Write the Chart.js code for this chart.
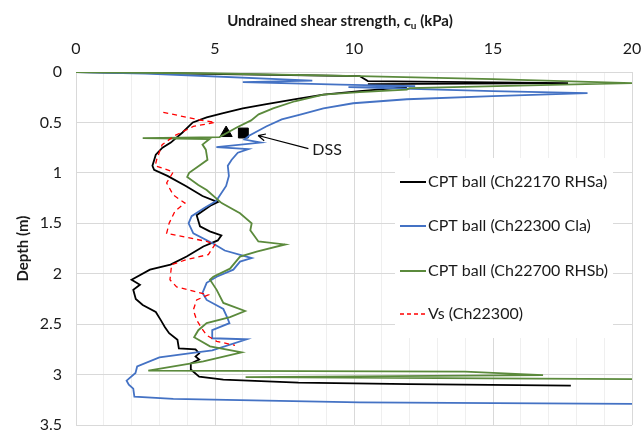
<!DOCTYPE html>
<html>
<head>
<meta charset="utf-8">
<script src="https://cdn.jsdelivr.net/npm/chart.js@4.4.0/dist/chart.umd.min.js"></script>
<style>
  html, body { margin: 0; padding: 0; background: #fff; }
  #chart { display: block; }
</style>
</head>
<body>
<canvas id="chart" width="642" height="434"></canvas>
<script>
// [cu (kPa), depth (m)]
const cptRHSa = [
  [0, 0], [4, 0.015], [10.2, 0.04], [10.5, 0.09], [17.7, 0.11], [10.5, 0.12], [11.9, 0.15],
  [10.2, 0.19], [8.9, 0.225], [7.9, 0.27], [6.8, 0.32], [6.0, 0.36], [5.26, 0.41], [4.7, 0.45],
  [4.2, 0.5], [3.83, 0.6], [3.41, 0.7], [3.11, 0.75], [2.87, 0.82], [2.75, 0.93], [2.81, 0.97],
  [3.29, 1.03], [3.95, 1.13], [4.55, 1.23], [5.1, 1.29], [4.87, 1.32], [4.34, 1.42], [4.46, 1.53],
  [4.81, 1.58], [5.23, 1.62], [5.1, 1.67], [4.58, 1.73], [3.98, 1.83], [3.4, 1.91], [2.66, 1.96],
  [2.0, 2.06], [2.3, 2.11], [2.06, 2.16], [2.15, 2.25], [2.4, 2.31], [2.87, 2.38], [3.05, 2.46],
  [3.2, 2.53], [3.35, 2.59], [3.65, 2.655], [3.7, 2.74], [4.3, 2.75], [4.43, 2.79], [4.3, 2.82],
  [4.43, 2.85], [4.13, 2.89], [4.13, 2.95], [4.43, 3.02], [5.3, 3.05], [8, 3.08], [12, 3.095],
  [17.8, 3.11]
];

const cptCla = [
  [0, 0], [2.5, 0.015], [8.5, 0.085], [6.0, 0.1], [9.5, 0.125], [12.2, 0.14], [9.8, 0.15],
  [15, 0.19], [18.4, 0.21], [15, 0.24], [11.9, 0.27], [9.97, 0.31], [8.9, 0.36], [8.1, 0.42],
  [7.4, 0.47], [6.84, 0.54], [6.24, 0.63], [6.06, 0.67], [6.65, 0.7], [5.05, 0.745], [6.2, 0.765],
  [5.82, 0.8], [5.6, 0.87], [5.46, 0.93], [5.5, 1.03], [5.4, 1.13], [5.16, 1.23], [5.04, 1.28],
  [4.6, 1.35], [4.16, 1.43], [4.05, 1.5], [4.22, 1.6], [4.93, 1.7], [5.35, 1.77], [6.32, 1.845],
  [5.9, 1.88], [5.66, 1.96], [5.06, 2.03], [4.7, 2.09], [4.55, 2.19], [4.7, 2.26], [5.3, 2.35],
  [5.45, 2.44], [5.52, 2.49], [4.9, 2.56], [4.9, 2.64], [6.14, 2.65], [4.9, 2.76], [4.07, 2.79],
  [3.0, 2.83], [2.2, 2.92], [2.14, 2.985], [1.82, 3.06], [1.9, 3.1], [2.06, 3.14], [2.1, 3.22],
  [3.5, 3.24], [10.2, 3.275], [20, 3.29]
];

const cptRHSb = [
  [0, 0], [5, 0.015], [10.2, 0.04], [15, 0.07], [20, 0.11], [17.5, 0.125], [12, 0.16],
  [11.9, 0.175], [10.2, 0.2], [8.9, 0.225], [7.87, 0.29], [7.09, 0.36], [6.57, 0.42], [6.3, 0.48],
  [5.78, 0.55], [5.16, 0.645], [2.4, 0.655], [4.8, 0.665], [4.55, 0.72], [4.67, 0.77], [4.73, 0.87],
  [4.43, 0.93], [4.07, 1.0], [4.0, 1.04], [4.4, 1.12], [4.7, 1.17], [5.24, 1.3], [5.9, 1.4],
  [6.32, 1.5], [6.27, 1.57], [6.56, 1.68], [7.52, 1.71], [6.5, 1.78], [5.9, 1.83], [5.54, 1.95],
  [4.94, 2.03], [4.82, 2.06], [5.06, 2.16], [5.3, 2.29], [6.08, 2.37], [5.54, 2.43], [4.7, 2.49],
  [4.4, 2.56], [4.25, 2.63], [4.82, 2.72], [5.96, 2.78], [4.58, 2.87], [2.6, 2.96], [14, 2.97],
  [16.8, 3.005], [6.1, 3.025], [20, 3.045]
];

const vsCla = [
  [3.14, 0.4], [4.46, 0.476], [5.0, 0.5], [4.22, 0.54], [3.56, 0.63], [3.1, 0.72], [2.9, 0.87],
  [2.85, 0.93], [3.5, 0.99], [3.26, 1.1], [3.5, 1.22], [3.92, 1.3], [3.56, 1.38], [3.35, 1.5],
  [3.26, 1.6], [4.7, 1.68], [5.0, 1.71], [4.76, 1.81], [3.98, 1.86], [3.44, 1.91], [3.38, 2.06],
  [3.62, 2.13], [4.76, 2.21], [4.34, 2.26], [4.22, 2.36], [4.34, 2.46], [4.52, 2.54], [4.7, 2.61],
  [5.06, 2.67], [5.72, 2.71]
];

const dssCu = [5.4, 6.02];
const dssDepth = [0.605, 0.605];
const dssMarks = ['triangle', 'rect'];

const seriesNames = ["CPT ball (Ch22170 RHSa)", "CPT ball (Ch22300 Cla)", "CPT ball (Ch22700 RHSb)", "Vs (Ch22300)"];
const seriesColors = ['#000000', '#4472c4', '#5b8a3c', '#ff0000'];

const xTicks = [0, 5, 10, 15, 20];
const FONT = "Lato, 'Open Sans', sans-serif";

function toPoints(arr) {
  return arr.map(p => ({ x: p[0], y: p[1] }));
}

// titles, legend box and DSS label
const decor = {
  id: 'decor',
  beforeDatasetsDraw(chart) {
    const ctx = chart.ctx;
    ctx.save();
    ctx.fillStyle = '#ffffff';
    ctx.fillRect(395, 158, 218, 180);
    ctx.restore();
  },
  afterDraw(chart) {
    const ctx = chart.ctx;
    const xs = chart.scales.x, ys = chart.scales.y;
    const area = chart.chartArea;
    ctx.save();

    // x title with subscript
    ctx.fillStyle = '#1a1a1a';
    ctx.textBaseline = 'middle';
    const t1 = "Undrained shear strength, c", t2 = " (kPa)";
    ctx.font = "bold 15px " + FONT;
    const w1 = ctx.measureText(t1).width, w3 = ctx.measureText(t2).width;
    ctx.font = "bold 10px " + FONT;
    const w2 = ctx.measureText("u").width;
    let x = 340 - (w1 + w2 + w3) / 2;
    const ty = 21;
    ctx.font = "bold 15px " + FONT;
    ctx.textAlign = 'left';
    ctx.fillText(t1, x, ty);
    ctx.font = "bold 10px " + FONT;
    ctx.fillText("u", x + w1, ty + 5);
    ctx.font = "bold 15px " + FONT;
    ctx.fillText(t2, x + w1 + w2, ty);

    // y title
    ctx.save();
    ctx.translate(23, (area.top + area.bottom) / 2);
    ctx.rotate(-Math.PI / 2);
    ctx.textAlign = 'center';
    ctx.fillText("Depth (m)", 0, 0);
    ctx.restore();

    // legend
    ctx.font = "16px " + FONT;
    const rows = [182, 226, 271, 314];
    rows.forEach((ry, i) => {
      ctx.strokeStyle = seriesColors[i];
      ctx.lineWidth = i === 3 ? 1.3 : 2;
      ctx.setLineDash(i === 3 ? [4, 3] : []);
      ctx.beginPath();
      ctx.moveTo(400, ry);
      ctx.lineTo(426, ry);
      ctx.stroke();
      ctx.setLineDash([]);
      ctx.fillStyle = '#1a1a1a';
      ctx.fillText(seriesNames[i], 428, ry);
    });

    // DSS arrow + label
    const ax = xs.getPixelForValue(8.36), ay = ys.getPixelForValue(0.76);
    const bx = xs.getPixelForValue(6.55), by = ys.getPixelForValue(0.63);
    ctx.strokeStyle = '#000';
    ctx.lineWidth = 1.2;
    ctx.beginPath();
    ctx.moveTo(ax, ay);
    ctx.lineTo(bx, by);
    const ang = Math.atan2(by - ay, bx - ax);
    ctx.moveTo(bx, by);
    ctx.lineTo(bx - 8 * Math.cos(ang - 0.45), by - 8 * Math.sin(ang - 0.45));
    ctx.moveTo(bx, by);
    ctx.lineTo(bx - 8 * Math.cos(ang + 0.45), by - 8 * Math.sin(ang + 0.45));
    ctx.stroke();
    ctx.fillStyle = '#1a1a1a';
    ctx.fillText("DSS", xs.getPixelForValue(8.5), ys.getPixelForValue(0.77));
    ctx.restore();
  }
};

const lineSet = (name, arr, color, width, dash) => ({
  label: name,
  data: toPoints(arr),
  showLine: true,
  borderColor: color,
  borderWidth: width,
  borderDash: dash || [],
  pointRadius: 0,
  fill: false,
  tension: 0
});

new Chart(document.getElementById('chart').getContext('2d'), {
  type: 'scatter',
  data: {
    datasets: [
      lineSet(seriesNames[3], vsCla, seriesColors[3], 1.3, [5, 4]),
      lineSet(seriesNames[2], cptRHSb, seriesColors[2], 1.8),
      lineSet(seriesNames[1], cptCla, seriesColors[1], 1.8),
      lineSet(seriesNames[0], cptRHSa, seriesColors[0], 1.8),
      {
        label: 'DSS',
        data: dssCu.map((c, i) => ({ x: c, y: dssDepth[i] })),
        pointStyle: dssMarks,
        pointRadius: 7,
        backgroundColor: '#000',
        borderColor: '#000',
        showLine: false
      }
    ]
  },
  options: {
    responsive: false,
    animation: false,
    devicePixelRatio: 1,
    layout: { padding: { left: 0, right: 10, top: 0, bottom: 9 } },
    plugins: { legend: { display: false }, tooltip: { enabled: false } },
    scales: {
      x: {
        type: 'linear',
        position: 'top',
        min: 0, max: 20,
        afterFit: s => { s.height = 72; s.paddingLeft = 0; s.paddingRight = 0; },
        afterBuildTicks: s => { s.ticks = Array.from({ length: 21 }, (_, i) => ({ value: i })); },
        ticks: {
          callback: v => xTicks.includes(v) ? v : '',
          font: { family: FONT, size: 16 },
          color: '#1a1a1a',
          padding: 14,
          maxRotation: 0,
          autoSkip: false
        },
        grid: {
          color: c => (c.tick && c.tick.value % 5 === 0) ? '#d9d9d9' : '#efefef',
          drawTicks: false
        },
        border: { color: '#d9d9d9' }
      },
      y: {
        type: 'linear',
        reverse: true,
        min: 0, max: 3.5,
        afterFit: s => { s.width = 76; s.paddingTop = 0; s.paddingBottom = 0; },
        ticks: {
          stepSize: 0.5,
          callback: v => String(Math.round(v * 10) / 10),
          font: { family: FONT, size: 16 },
          color: '#1a1a1a',
          padding: 14
        },
        grid: { color: '#d9d9d9', drawTicks: false },
        border: { color: '#d9d9d9' }
      }
    }
  },
  plugins: [decor]
});
</script>
</body>
</html>
